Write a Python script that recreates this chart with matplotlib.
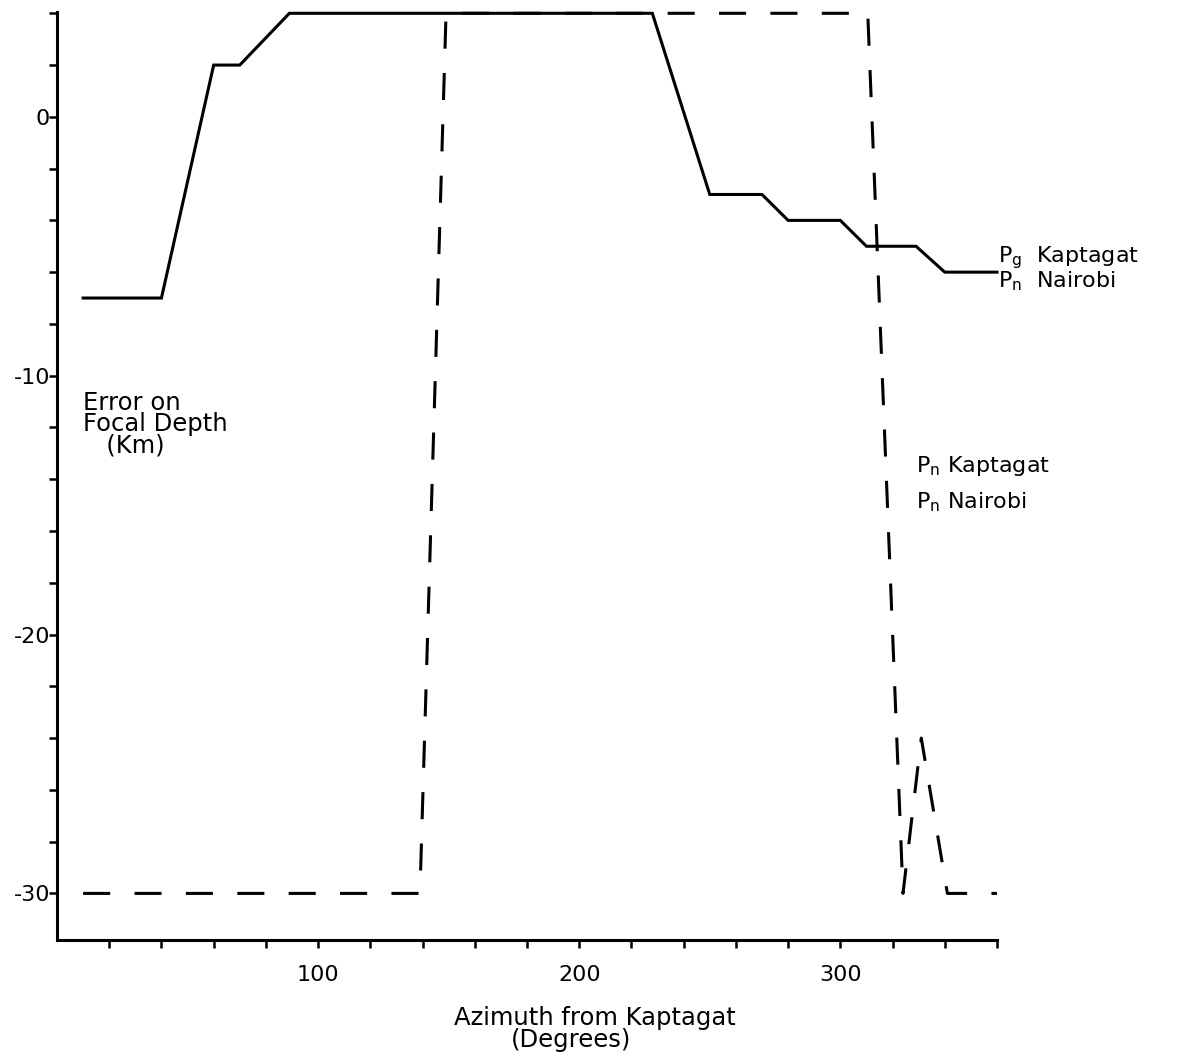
import matplotlib
matplotlib.use("Agg")
import matplotlib.pyplot as plt
from matplotlib.ticker import FixedLocator

plt.rcParams['font.family'] = ['DejaVu Sans']
plt.rcParams['lines.scale_dashes'] = False

# Pg Kaptagat / Pn Nairobi (solid)
az_solid = [10, 40, 60, 70, 89, 228, 250, 270, 280, 300, 310, 329, 340, 360]
err_solid = [-7, -7, 2, 2, 4, 4, -3, -3, -4, -4, -5, -5, -6, -6]

# Pn Kaptagat / Pn Nairobi (dashed)
az_dash = [10, 139, 149, 310.5, 324, 331, 341, 360]
err_dash = [-30, -30, 4, 4, -30, -24, -30, -30]

x_major = [100, 200, 300]
x_labels = ["100", "200", "300"]
y_major = [0, -10, -20, -30]
y_labels = ["0", "-10", "-20", "-30"]

fig = plt.figure(figsize=(11.81, 10.60), dpi=100)
ax = fig.add_axes([57/1181, 1-940/1060, (997-57)/1181, (940-12)/1060])

ax.plot(az_solid, err_solid, color='black', lw=2.2, solid_joinstyle='miter', clip_on=False)
ax.plot(az_dash, err_dash, color='black', lw=2.2, dashes=(19.5, 17.5),
        dash_capstyle='butt', clip_on=False)

ax.set_xlim(0, 360)
ax.set_ylim(-31.8, 4.05)

for s in ['top', 'right']:
    ax.spines[s].set_visible(False)
for s in ['left', 'bottom']:
    ax.spines[s].set_linewidth(2.2)

ax.xaxis.set_major_locator(FixedLocator(x_major))
ax.set_xticklabels(x_labels)
ax.xaxis.set_minor_locator(FixedLocator([v for v in range(20, 361, 20) if v not in x_major]))
ax.yaxis.set_major_locator(FixedLocator(y_major))
ax.set_yticklabels(y_labels)
ax.yaxis.set_minor_locator(FixedLocator([v for v in range(-30, 5, 2) if v not in y_major]))

ax.tick_params(axis='both', which='both', direction='out', width=1.8, color='black')
ax.tick_params(axis='both', which='major', length=6, labelsize=16)
ax.tick_params(axis='both', which='minor', length=6)
ax.tick_params(axis='x', which='major', pad=12)
ax.tick_params(axis='y', which='major', pad=-1)

ax.text(0.572, -0.084, "Azimuth from Kaptagat", transform=ax.transAxes, fontsize=17.5,
        ha='center', va='center')
ax.text(0.547, -0.108, "(Degrees)", transform=ax.transAxes, fontsize=17.5,
        ha='center', va='center')

ax.text(10, -10.6, "Error on\nFocal Depth\n   (Km)", fontsize=17.5, ha='left', va='top',
        linespacing=0.85)

ax.text(360.3, -5.45, r"P$_\mathregular{g}$  Kaptagat", fontsize=16, ha='left', va='center')
ax.text(360.3, -6.35, r"P$_\mathregular{n}$  Nairobi", fontsize=16, ha='left', va='center')

ax.text(329, -13.5, r"P$_\mathregular{n}$ Kaptagat", fontsize=16, ha='left', va='center')
ax.text(329, -14.9, r"P$_\mathregular{n}$ Nairobi", fontsize=16, ha='left', va='center')

fig.savefig("out.png", dpi=100)
